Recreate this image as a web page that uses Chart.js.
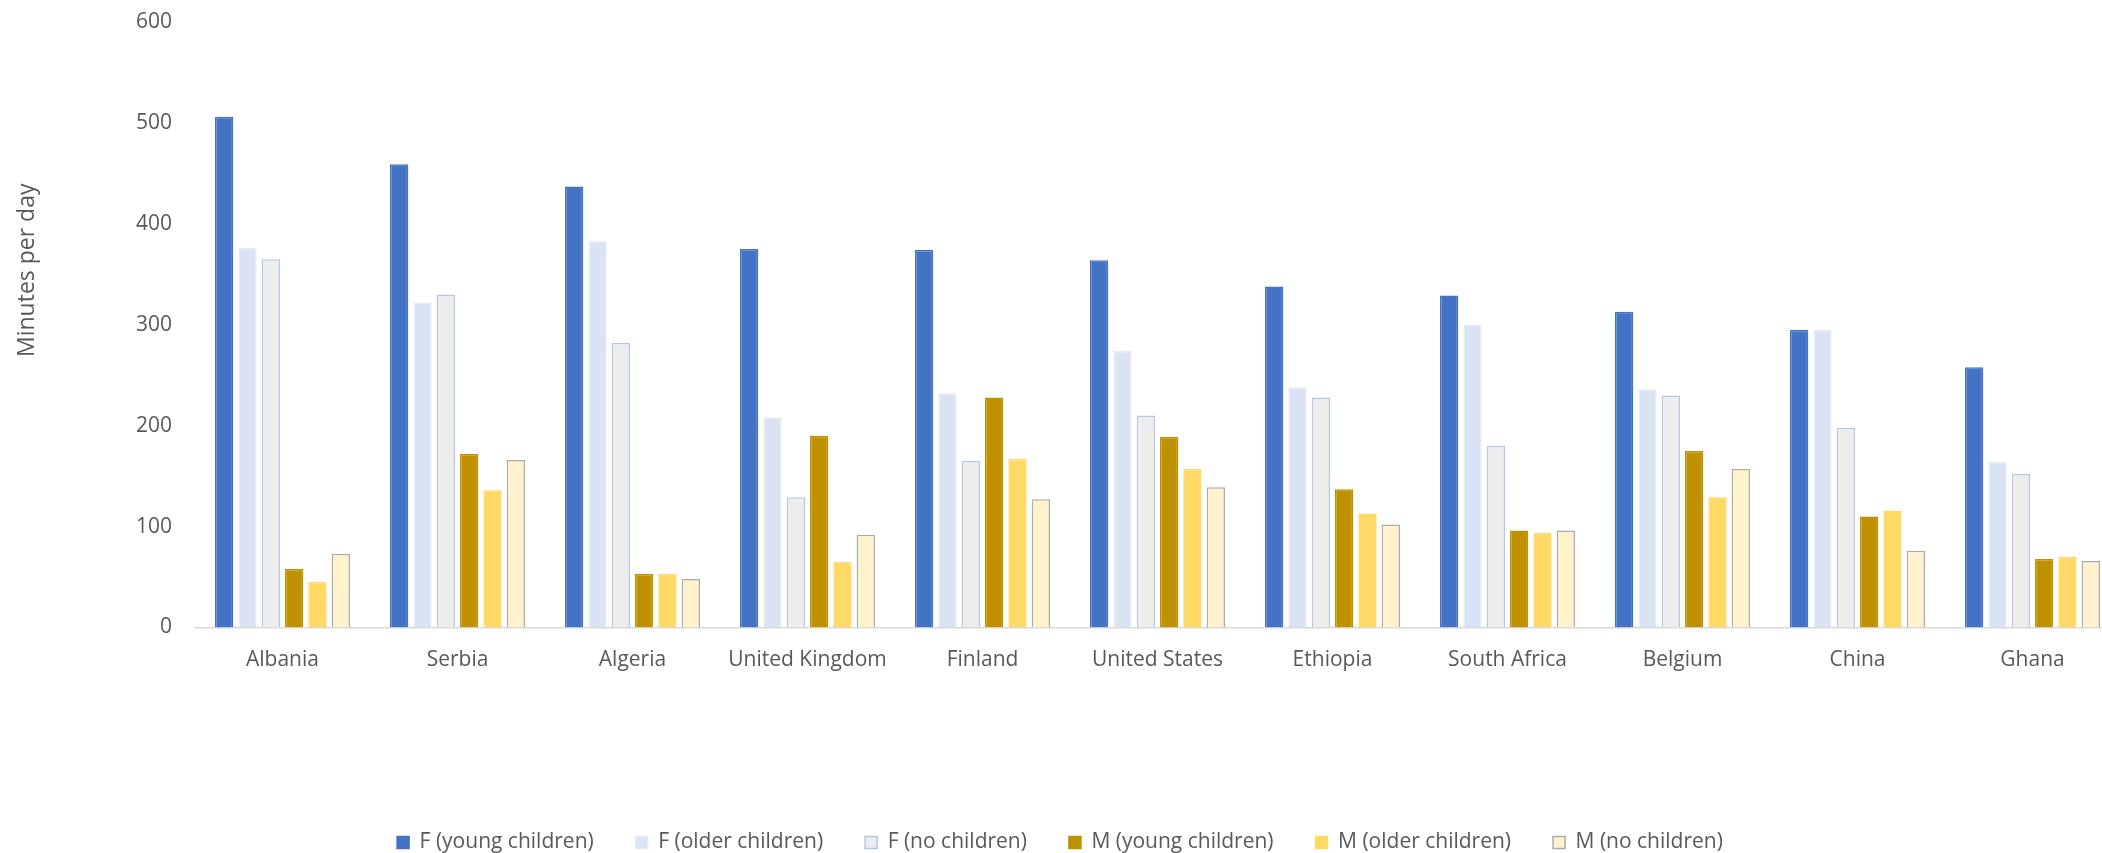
<!DOCTYPE html>
<html>
<head>
<meta charset="utf-8">
<script src="https://cdn.jsdelivr.net/npm/chart.js@4"></script>
<style>
  html, body { margin: 0; padding: 0; background: #fff; overflow: hidden; }
  #wrap { width: 2122px; height: 863px; }
</style>
</head>
<body>
<div id="wrap"><canvas id="myChart" width="2122" height="863"></canvas></div>
<script>
// countries along the x axis
const countries = ['Albania', 'Serbia', 'Algeria', 'United Kingdom', 'Finland', 'United States',
  'Ethiopia', 'South Africa', 'Belgium', 'China', 'Ghana'];

// minutes per day
const fYoung = [506, 459, 437, 375, 374, 364, 338, 329, 313, 295, 258];
const fOlder = [376, 322, 383, 208, 232, 274, 238, 300, 236, 295, 164];
const fNone = [365, 330, 282, 129, 165, 210, 228, 180, 230, 198, 152];
const mYoung = [58, 172, 53, 190, 228, 189, 137, 96, 175, 110, 68];
const mOlder = [45, 136, 53, 65, 167, 157, 113, 94, 129, 116, 70];
const mNone = [73, 166, 48, 92, 127, 139, 102, 96, 157, 76, 66];

const seriesNames = ['F (young children)', 'F (older children)', 'F (no children)',
  'M (young children)', 'M (older children)', 'M (no children)'];

const yTicks = [0, 100, 200, 300, 400, 500, 600];
const yTitle = 'Minutes per day';

const textColor = '#595959';
const font = 'Open Sans';

const fills = ['#4472C4', '#DAE3F3', '#EDEDED', '#BF9000', '#FFD966', '#FFF2CC'];
const borders = ['#4472C4', '#E6ECF7', '#B4C7E7', '#BF9000', '#FFD966', '#AEAAAA'];

const allSeries = [fYoung, fOlder, fNone, mYoung, mOlder, mNone];

const datasets = allSeries.map((vals, i) => ({
  label: seriesNames[i],
  data: vals,
  backgroundColor: fills[i],
  borderColor: borders[i],
  borderWidth: 1.5,
  borderSkipped: 'start',
  categoryPercentage: 0.8,
  barPercentage: 0.785,
}));

// y axis title sits a bit above the middle of the plot, like the original
const yTitlePlugin = {
  id: 'yTitle',
  afterDraw(c) {
    const g = c.ctx, a = c.chartArea;
    g.save();
    g.translate(27, a.top + (a.bottom - a.top) * 0.41);
    g.rotate(-Math.PI / 2);
    g.font = '23px "' + font + '"';
    g.fillStyle = textColor;
    g.textAlign = 'center';
    g.textBaseline = 'middle';
    g.fillText(yTitle, 0, 0);
    g.restore();
  },
};

const ctx = document.getElementById('myChart').getContext('2d');
const chart = new Chart(ctx, {
  type: 'bar',
  data: { labels: countries, datasets: datasets },
  plugins: [yTitlePlugin],
  options: {
    responsive: false,
    animation: false,
    layout: { padding: { top: 22, right: 2, bottom: 0, left: 0 } },
    plugins: {
      tooltip: { enabled: false },
      legend: {
        position: 'bottom',
        labels: {
          color: textColor,
          font: { family: font, size: 21 },
          boxWidth: 12,
          boxHeight: 12,
          padding: 42,
        },
      },
    },
    scales: {
      x: {
        grid: { display: false },
        border: { display: true, color: '#D9D9D9', width: 1.5 },
        ticks: {
          color: textColor,
          font: { family: font, size: 21 },
          padding: 12,
          maxRotation: 0,
          autoSkip: false,
        },
        afterFit: (scale) => { scale.height = 162.5; },
      },
      y: {
        min: 0,
        max: 600,
        grid: { display: false },
        border: { display: false },
        afterBuildTicks: (scale) => { scale.ticks = yTicks.map(v => ({ value: v })); },
        ticks: {
          color: textColor,
          font: { family: font, size: 21 },
          padding: 15,
        },
        afterFit: (scale) => {
          scale.width = 195;
          scale.paddingTop = 0;
          scale.paddingBottom = 0;
        },
      },
    },
  },
});
</script>
</body>
</html>
